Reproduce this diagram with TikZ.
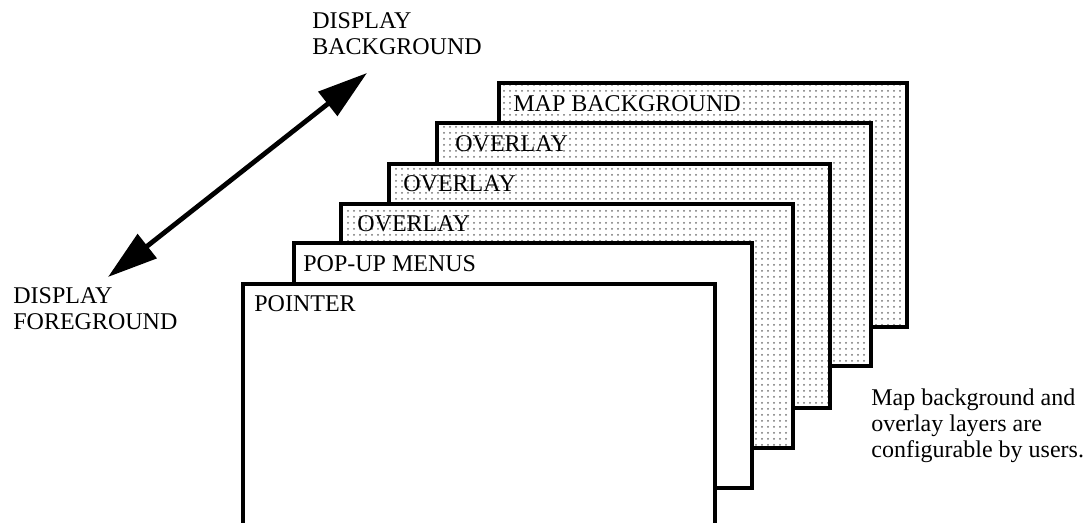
\documentclass[tikz,border=0pt]{standalone}
\usepackage{fontspec}
\setmainfont{Liberation Serif}
\usetikzlibrary{patterns,arrows.meta}
\begin{document}
\begin{tikzpicture}[x=0.5pt,y=-0.5pt,line join=miter,font=\fontsize{12}{13}\selectfont]
\tikzset{layer/.style={draw,line width=1.7pt,fill=white},
dotlayer/.style={draw,line width=1.7pt,preaction={fill=white},pattern=dots,pattern color=black!55},
lbl/.style={anchor=base west,inner sep=0pt,align=left}}
\useasboundingbox (0,0) rectangle (1083,523);
% layers, back to front
\draw[dotlayer] (499,83) rectangle (907,327);
\draw[dotlayer] (437,123) rectangle (871,366);
\draw[dotlayer] (389,164) rectangle (830,408);
\draw[dotlayer] (341,204) rectangle (793,448);
\draw[layer] (294,243) rectangle (752,488);
\draw[layer] (243,284) rectangle (715,540);
\node[lbl,fill=white,inner sep=1pt] (mapbg) at (511,112) {MAP BACKGROUND};
\node[lbl] (ovl3) at (455,152) {OVERLAY};
\node[lbl] (ovl2) at (403,192) {OVERLAY};
\node[lbl] (ovl1) at (357,232) {OVERLAY};
\node[lbl] (popup) at (303,272) {POP-UP MENUS};
\node[lbl] (pointer) at (254,312) {POINTER};
% depth arrow (multi-line labels sit on their last baseline)
\node[lbl] (dispbg) at (312,55) {DISPLAY\\BACKGROUND};
\node[lbl] (dispfg) at (13,330) {DISPLAY\\FOREGROUND};
\coordinate (fg) at (108,277);
\coordinate (bg) at (367,73);
\draw[line width=2.4pt,{Triangle[length=25pt,width=15pt]}-{Triangle[length=25pt,width=15pt]}] (fg)--(bg);
\node[lbl] (note) at (871,458) {Map background and\\overlay layers are\\configurable by users.};
\end{tikzpicture}
\end{document}
